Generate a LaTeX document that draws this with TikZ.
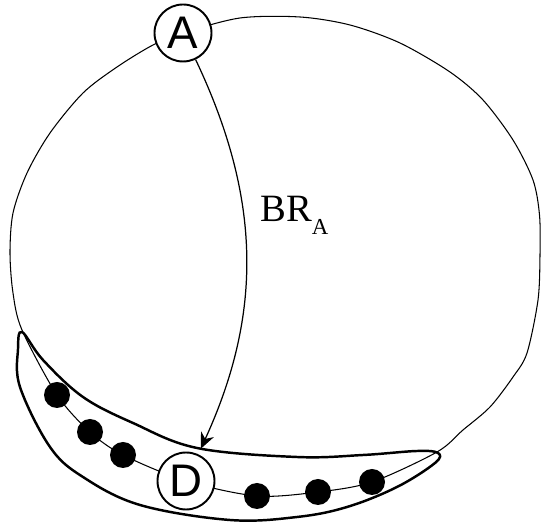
\documentclass[tikz,border=0pt]{standalone}
\usepackage{fontspec}
\setmainfont{Liberation Serif}
\setsansfont{Liberation Sans}
\usetikzlibrary{arrows.meta}

\begin{document}
\begin{tikzpicture}[>={Stealth[length=3.2mm, width=2.8mm]},
    site/.style={circle, draw, line width=1.1pt, fill=white, minimum size=1.14cm,
        inner sep=0pt, font=\sffamily\fontsize{26}{26}\selectfont},
    peer/.style={circle, fill=black, minimum size=0.52cm, inner sep=0pt}]
    \useasboundingbox (0,0) rectangle (10.82,10.48);

    % Ring
    \draw[line width=0.6pt] plot[smooth cycle] coordinates {
        (3.66,9.82) (4.80,10.12) (6.00,10.14) (7.00,9.98) (8.00,9.62) (9.00,9.04)
        (9.66,8.48) (10.26,7.68) (10.66,6.88) (10.79,6.18) (10.80,5.38) (10.76,4.48)
        (10.54,3.42) (10.26,2.94) (9.80,2.34) (9.26,1.88) (8.74,1.44) (7.44,0.84)
        (6.36,0.64) (5.14,0.56) (3.72,0.86) (2.46,1.38) (1.80,1.84) (1.14,2.58)
        (0.44,3.88) (0.26,4.62) (0.20,5.42) (0.26,6.22) (0.54,7.02) (1.00,7.82)
        (1.66,8.62) (2.34,9.14) (3.06,9.58)};

    % Group round D
    \draw[line width=1.4pt] plot[smooth cycle, tension=0.6] coordinates {
        (0.44,3.84) (0.86,3.28) (1.66,2.54) (2.66,2.02) (3.94,1.52) (5.94,1.34)
        (7.26,1.38) (8.34,1.46) (8.76,1.42) (8.70,1.22) (7.94,0.74) (6.94,0.34)
        (5.94,0.14) (4.60,0.08) (2.80,0.38) (1.66,0.94) (1.00,1.54) (0.40,2.74)
        (0.36,3.50)};

    % Sites
    \node[site] (A) at (3.66,9.82) {A};
    \node[site] (D) at (3.72,0.86) {D};

    % Peers
    \node[peer] (p1) at (1.14,2.58) {};
    \node[peer] (p2) at (1.80,1.84) {};
    \node[peer] (p3) at (2.46,1.38) {};
    \node[peer] (p4) at (5.14,0.56) {};
    \node[peer] (p5) at (6.36,0.64) {};
    \node[peer] (p6) at (7.44,0.84) {};

    % Route A -> D
    \draw[->, line width=0.7pt, shorten >=1.2mm] (A) to[bend left=25] (D);
    \node[anchor=base west, inner sep=0pt] (route) at (5.2,6.04)
        {\fontsize{22}{22}\selectfont BR\raisebox{-7.4pt}{\fontsize{13}{13}\selectfont A}};
\end{tikzpicture}
\end{document}
